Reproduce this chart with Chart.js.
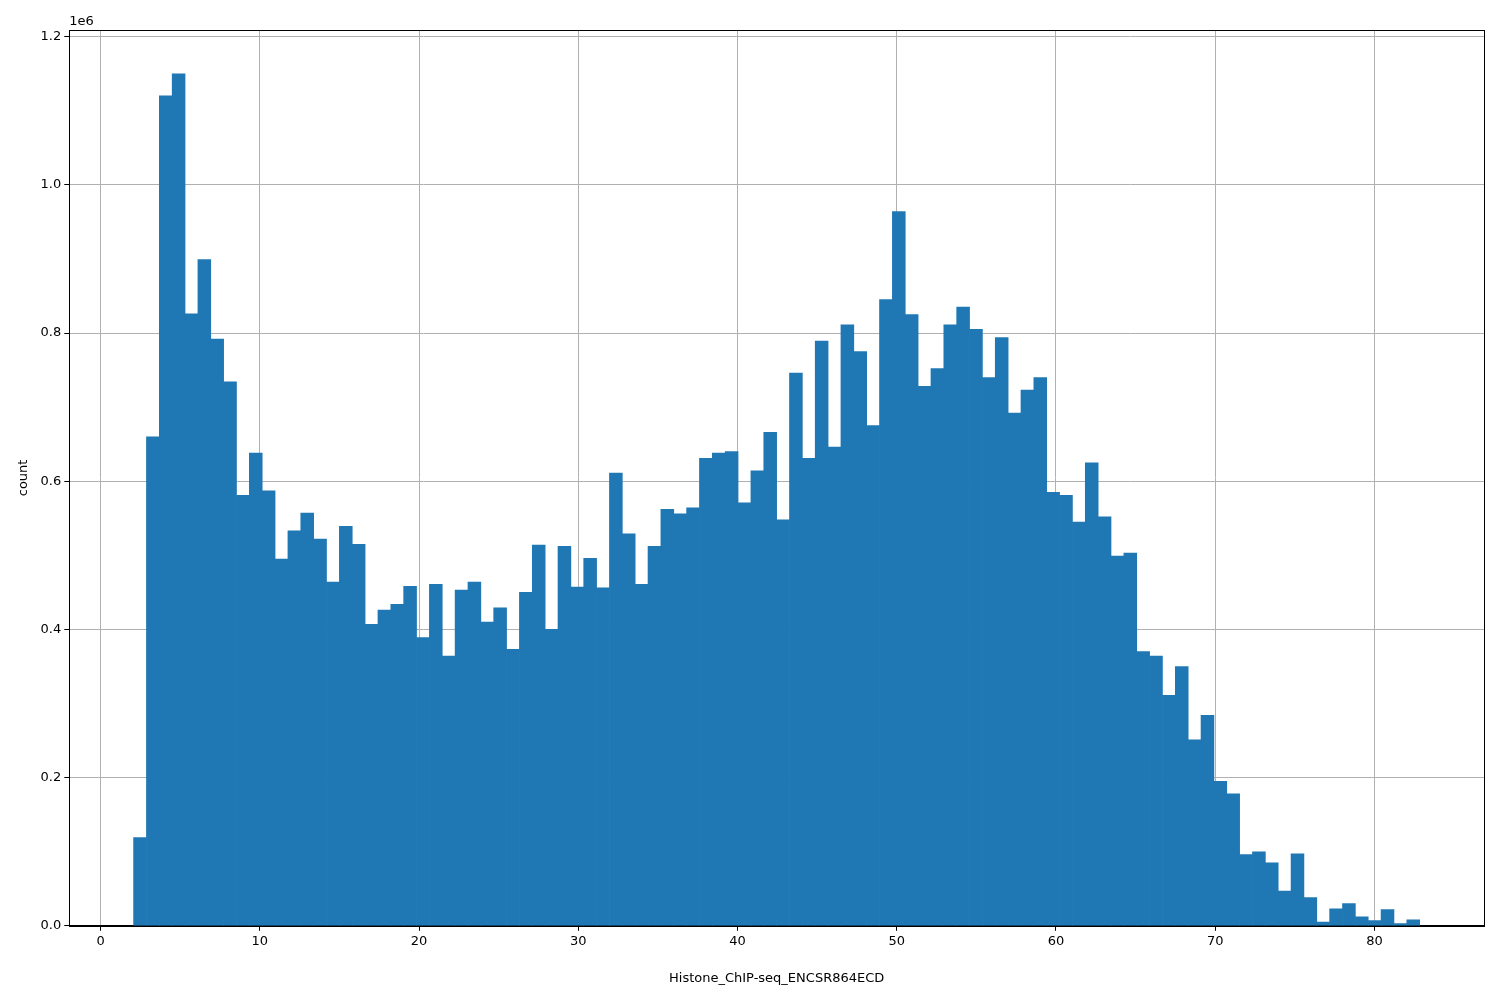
<!DOCTYPE html>
<html><head><meta charset="utf-8">
<script src="https://cdn.jsdelivr.net/npm/chart.js@4"></script>
<style>html,body{margin:0;padding:0;background:#fff}#w{width:1500px;height:1000px;position:relative}</style>
</head><body><div id="w"><canvas id="c"></canvas></div>
<script>
const binStart = 2.07;
const binWidth = 0.8077;
const counts = [0.119,0.66,1.12,1.15,0.826,0.899,0.792,0.734,0.581,0.638,
0.587,0.495,0.533,0.557,0.522,0.464,0.539,0.515,0.407,0.426,
0.434,0.458,0.389,0.461,0.364,0.453,0.464,0.41,0.429,0.373,
0.45,0.514,0.4,0.512,0.457,0.496,0.456,0.611,0.529,0.461,
0.512,0.562,0.556,0.564,0.631,0.638,0.64,0.571,0.614,0.666,
0.548,0.746,0.631,0.789,0.646,0.811,0.775,0.675,0.845,0.964,
0.825,0.728,0.752,0.811,0.835,0.805,0.74,0.794,0.692,0.723,
0.74,0.585,0.581,0.545,0.625,0.552,0.499,0.503,0.37,0.364,
0.311,0.35,0.251,0.284,0.195,0.178,0.096,0.1,0.085,0.047,
0.097,0.038,0.005,0.023,0.03,0.012,0.007,0.022,0.003,0.008].map(v=>v*1e6);
const xTicks = [0,10,20,30,40,50,60,70,80];
const yTicks = [0,0.2,0.4,0.6,0.8,1.0,1.2];
const data = counts.map((v,i)=>({x: binStart + binWidth*(i+0.5), y: v}));
const labelsPlugin = {id:'lbl', afterDraw(ch){const c=ch.ctx,a=ch.chartArea;c.save();c.fillStyle='#000';c.font='13px "DejaVu Sans"';c.textAlign='left';c.textBaseline='bottom';c.fillText('1e6',a.left,a.top-2);
c.strokeStyle='#000';c.lineWidth=1;c.strokeRect(Math.round(a.left)+0.5,Math.round(a.top)+0.5,Math.round(a.right-a.left),Math.round(a.bottom-a.top));c.restore();}};
new Chart(document.getElementById('c'),{type:'bar',
data:{datasets:[{data, backgroundColor:'#1f77b4', barPercentage:1, categoryPercentage:1, borderWidth:0}]},
options:{responsive:true,maintainAspectRatio:false,animation:false,
layout:{padding:{left:12,right:16,top:30,bottom:10}},
plugins:{legend:{display:false},tooltip:{enabled:false}},
scales:{
x:{type:'linear',min:-1.97,max:86.88,offset:false,
 afterBuildTicks(s){s.ticks=xTicks.map(v=>({value:v}));},
 ticks:{autoSkip:false,color:'#000',font:{size:13,family:'DejaVu Sans'},maxRotation:0,callback:v=>String(v)},
 grid:{offset:false,color:'#b0b0b0',tickColor:'#000',tickLength:5,drawOnChartArea:true},
 border:{color:'#000'},
 title:{display:true,text:'Histone_ChIP-seq_ENCSR864ECD',color:'#000',font:{size:13,family:'DejaVu Sans'},padding:{top:18}}},
y:{min:0,max:1.209e6,
 afterBuildTicks(s){s.ticks=yTicks.map(v=>({value:v*1e6}));},
 ticks:{autoSkip:false,color:'#000',font:{size:13,family:'DejaVu Sans'},callback:v=>(v/1e6).toFixed(1)},
 grid:{color:'#b0b0b0',tickColor:'#000',tickLength:5},
 border:{color:'#000'},
 title:{display:true,text:'count',color:'#000',font:{size:13,family:'DejaVu Sans'},padding:{bottom:6}}}
}},plugins:[labelsPlugin]});
</script></body></html>
